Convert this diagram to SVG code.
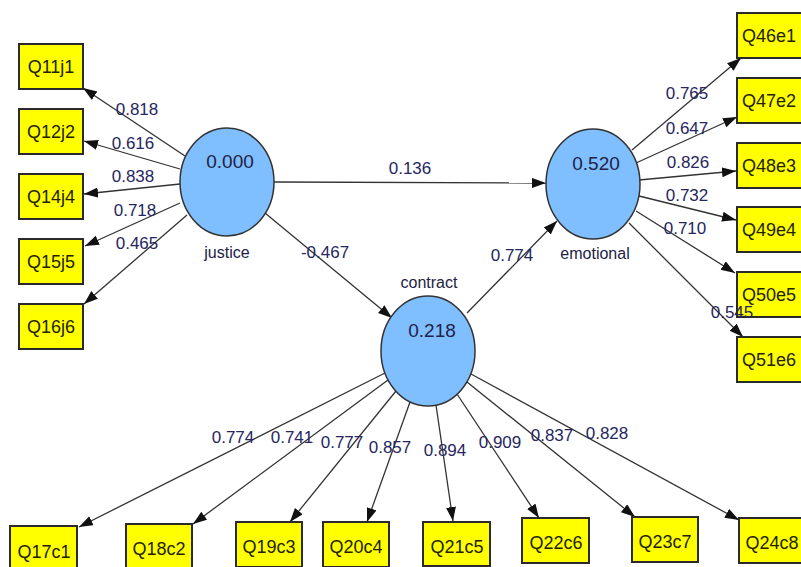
<svg xmlns="http://www.w3.org/2000/svg" width="801" height="567" viewBox="0 0 801 567">
<defs>
<marker id="ah" markerUnits="userSpaceOnUse" markerWidth="16" markerHeight="12" refX="14" refY="5" orient="auto">
<path d="M0,0 L14,5 L0,10 z" fill="#111"/>
</marker>
<style>
.box{fill:#ffff00;stroke:#2a2a2a;stroke-width:2}
.bt{font-family:"Liberation Sans",Arial,sans-serif;font-size:18px;fill:#222200;text-anchor:middle}
.lv{fill:#7fbfff;stroke:#333;stroke-width:1.5}
.lt{font-family:"Liberation Sans",Arial,sans-serif;font-size:16px;fill:#222244;text-anchor:middle}
.vt{font-family:"Liberation Sans",Arial,sans-serif;font-size:19px;fill:#222244;text-anchor:middle}
.num{font-family:"Liberation Sans",Arial,sans-serif;font-size:17px;fill:#262660;text-anchor:middle}
.c line{stroke:#333;stroke-width:1.3;marker-end:url(#ah)}
</style>
</defs>
<rect width="801" height="567" fill="#fff"/>
<g class="c" id="connectors">
<line x1="185" y1="156" x2="83" y2="88"/>
<line x1="180" y1="169" x2="84" y2="141"/>
<line x1="180" y1="184" x2="84" y2="194"/>
<line x1="180" y1="203" x2="85" y2="246"/>
<line x1="187" y1="215" x2="84" y2="304"/>
<line x1="632" y1="150" x2="741" y2="58"/>
<line x1="636" y1="163" x2="737" y2="117"/>
<line x1="639" y1="180" x2="736" y2="171"/>
<line x1="639" y1="196" x2="736" y2="220"/>
<line x1="636" y1="211" x2="735" y2="273"/>
<line x1="629" y1="223" x2="743" y2="337"/>
<line x1="274" y1="182" x2="546" y2="183"/>
<line x1="265" y1="213" x2="392" y2="318"/>
<line x1="467" y1="313" x2="557" y2="221"/>
<line x1="385" y1="373" x2="79" y2="527"/>
<line x1="388" y1="380" x2="193" y2="524"/>
<line x1="396" y1="391" x2="290" y2="522"/>
<line x1="410" y1="402" x2="367" y2="522"/>
<line x1="436" y1="405" x2="453" y2="521"/>
<line x1="457" y1="394" x2="539" y2="518"/>
<line x1="467" y1="382" x2="635" y2="517"/>
<line x1="471" y1="374" x2="739" y2="520"/>
</g>
<g id="justice">
<ellipse class="lv" cx="227" cy="182" rx="47" ry="54"/>
<text class="vt" x="230" y="168">0.000</text>
<text class="lt" x="227" y="258">justice</text>
</g>
<g id="emotional">
<ellipse class="lv" cx="593" cy="184" rx="47" ry="55"/>
<text class="vt" x="596" y="170">0.520</text>
<text class="lt" x="595" y="259">emotional</text>
</g>
<g id="contract">
<ellipse class="lv" cx="428" cy="351" rx="47" ry="55"/>
<text class="vt" x="432" y="337">0.218</text>
<text class="lt" x="429" y="288">contract</text>
</g>
<g id="Q11j1"><rect class="box" x="19" y="44" width="64" height="45"/><text class="bt" x="51" y="73">Q11j1</text></g>
<g id="Q12j2"><rect class="box" x="19" y="109" width="64" height="45"/><text class="bt" x="51" y="138">Q12j2</text></g>
<g id="Q14j4"><rect class="box" x="19" y="174" width="64" height="45"/><text class="bt" x="51" y="203">Q14j4</text></g>
<g id="Q15j5"><rect class="box" x="19" y="239" width="64" height="45"/><text class="bt" x="51" y="268">Q15j5</text></g>
<g id="Q16j6"><rect class="box" x="19" y="304" width="64" height="45"/><text class="bt" x="51" y="333">Q16j6</text></g>
<g id="Q46e1"><rect class="box" x="737" y="13" width="66" height="45"/><text class="bt" x="769" y="42">Q46e1</text></g>
<g id="Q47e2"><rect class="box" x="737" y="78" width="66" height="45"/><text class="bt" x="769" y="107">Q47e2</text></g>
<g id="Q48e3"><rect class="box" x="737" y="143" width="66" height="45"/><text class="bt" x="769" y="172">Q48e3</text></g>
<g id="Q49e4"><rect class="box" x="737" y="207" width="66" height="45"/><text class="bt" x="769" y="236">Q49e4</text></g>
<g id="Q50e5"><rect class="box" x="737" y="272" width="66" height="45"/><text class="bt" x="769" y="301">Q50e5</text></g>
<g id="Q51e6"><rect class="box" x="737" y="337" width="66" height="45"/><text class="bt" x="769" y="366">Q51e6</text></g>
<g id="Q17c1"><rect class="box" x="10" y="526" width="67" height="45"/><text class="bt" x="44" y="558">Q17c1</text></g>
<g id="Q18c2"><rect class="box" x="126" y="524" width="66" height="45"/><text class="bt" x="159" y="555">Q18c2</text></g>
<g id="Q19c3"><rect class="box" x="236" y="522" width="66" height="45"/><text class="bt" x="269" y="553">Q19c3</text></g>
<g id="Q20c4"><rect class="box" x="323" y="522" width="66" height="45"/><text class="bt" x="356" y="553">Q20c4</text></g>
<g id="Q21c5"><rect class="box" x="423" y="522" width="67" height="44"/><text class="bt" x="457" y="553">Q21c5</text></g>
<g id="Q22c6"><rect class="box" x="522" y="518" width="67" height="45"/><text class="bt" x="556" y="549">Q22c6</text></g>
<g id="Q23c7"><rect class="box" x="632" y="517" width="66" height="45"/><text class="bt" x="665" y="548">Q23c7</text></g>
<g id="Q24c8"><rect class="box" x="739" y="518" width="66" height="45"/><text class="bt" x="772" y="549">Q24c8</text></g>
<g id="labels">
<text class="num" x="137" y="115">0.818</text>
<text class="num" x="133" y="149">0.616</text>
<text class="num" x="133" y="182">0.838</text>
<text class="num" x="135" y="216">0.718</text>
<text class="num" x="137" y="249">0.465</text>
<text class="num" x="687" y="99">0.765</text>
<text class="num" x="687" y="134">0.647</text>
<text class="num" x="688" y="168">0.826</text>
<text class="num" x="687" y="201">0.732</text>
<text class="num" x="685" y="234">0.710</text>
<text class="num" x="732" y="318">0.545</text>
<text class="num" x="410" y="174">0.136</text>
<text class="num" x="325" y="258">-0.467</text>
<text class="num" x="512" y="261">0.774</text>
<text class="num" x="233" y="443">0.774</text>
<text class="num" x="292" y="443">0.741</text>
<text class="num" x="342" y="448">0.777</text>
<text class="num" x="390" y="453">0.857</text>
<text class="num" x="445" y="456">0.894</text>
<text class="num" x="500" y="448">0.909</text>
<text class="num" x="552" y="441">0.837</text>
<text class="num" x="607" y="439">0.828</text>
</g>
</svg>
